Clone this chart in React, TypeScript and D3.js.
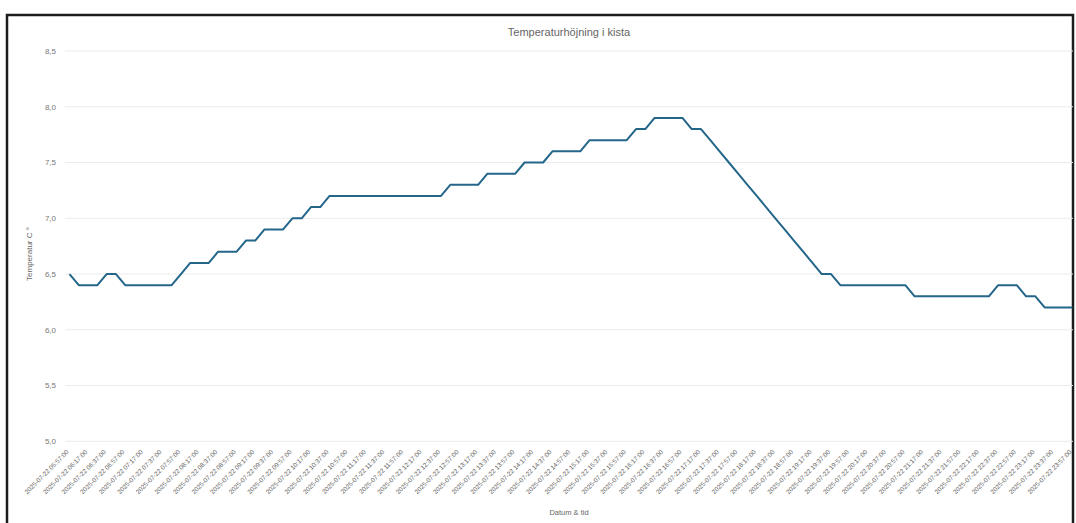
import React from "react";
import * as d3 from "d3";

// readings every 10 minutes, 2025-07-22 05:57 -> 23:57
const startTime = new Date(2025, 6, 22, 5, 57, 0);
const stepMinutes = 10;

const temps = [
  6.5, 6.4, 6.4, 6.4, 6.5, 6.5,
  6.4, 6.4, 6.4, 6.4, 6.4, 6.4,
  6.5, 6.6, 6.6, 6.6, 6.7, 6.7,
  6.7, 6.8, 6.8, 6.9, 6.9, 6.9,
  7.0, 7.0, 7.1, 7.1, 7.2, 7.2,
  7.2, 7.2, 7.2, 7.2, 7.2, 7.2,
  7.2, 7.2, 7.2, 7.2, 7.2, 7.3,
  7.3, 7.3, 7.3, 7.4, 7.4, 7.4,
  7.4, 7.5, 7.5, 7.5, 7.6, 7.6,
  7.6, 7.6, 7.7, 7.7, 7.7, 7.7,
  7.7, 7.8, 7.8, 7.9, 7.9, 7.9,
  7.9, 7.8, 7.8, 7.7, 7.6, 7.5,
  7.4, 7.3, 7.2, 7.1, 7.0, 6.9,
  6.8, 6.7, 6.6, 6.5, 6.5, 6.4,
  6.4, 6.4, 6.4, 6.4, 6.4, 6.4,
  6.4, 6.3, 6.3, 6.3, 6.3, 6.3,
  6.3, 6.3, 6.3, 6.3, 6.4, 6.4,
  6.4, 6.3, 6.3, 6.2, 6.2, 6.2,
  6.2,
];

const yTicks = [5.0, 5.5, 6.0, 6.5, 7.0, 7.5, 8.0, 8.5];

const title = "Temperaturhöjning i kista";
const yTitle = "Temperatur C °";
const xTitle = "Datum & tid";

const W = 1076;
const H = 523;
const font = "'Liberation Sans', Arial, sans-serif";

export default function App() {
  const fmt = d3.timeFormat("%Y-%m-%d %H:%M:%S");
  const labels = temps.map((_, i) => fmt(d3.timeMinute.offset(startTime, stepMinutes * i)));

  const x = d3.scalePoint<string>().domain(labels).range([69.5, 1072.5]);
  const y = d3.scaleLinear().domain([5, 8.5]).range([441.3, 51]);

  const line = d3
    .line<number>()
    .x((_, i) => x(labels[i])!)
    .y((d) => y(d));

  const yFmt = (v: number) => d3.format(".1f")(v).replace(".", ",");

  return (
    <svg
      width={W}
      height={H}
      style={{ position: "absolute", left: 0, top: 0, background: "#fff" }}
    >
      <rect x={7} y={15} width={1066} height={540} fill="#fff" stroke="#1c1c1c" strokeWidth={2.5} />

      <text x={569} y={36} textAnchor="middle" fontFamily={font} fontSize={11} fill="#666">
        {title}
      </text>

      {yTicks.map((t) => (
        <g key={t}>
          <line x1={65} x2={1073} y1={y(t)} y2={y(t)} stroke="#ebebeb" strokeWidth={1} />
          <text x={56} y={y(t)} dy="0.35em" textAnchor="end" fontFamily={font} fontSize={8} fill="#777">
            {yFmt(t)}
          </text>
        </g>
      ))}

      <text
        transform={`translate(32, 254) rotate(-90)`}
        textAnchor="middle"
        fontFamily={font}
        fontSize={8}
        fill="#666"
      >
        {yTitle}
      </text>

      <path d={line(temps) ?? ""} fill="none" stroke="#23668a" strokeWidth={2} strokeLinejoin="round" />

      {labels.map((l, i) =>
        i % 2 === 0 ? (
          <text
            key={l}
            transform={`translate(${x(l)! - 2}, 451) rotate(-45)`}
            textAnchor="end"
            dy="0.35em"
            fontFamily={font}
            fontSize={6.4}
            fill="#666"
          >
            {l}
          </text>
        ) : null
      )}

      <text x={569} y={515} textAnchor="middle" fontFamily={font} fontSize={7.5} fill="#666">
        {xTitle}
      </text>
    </svg>
  );
}
